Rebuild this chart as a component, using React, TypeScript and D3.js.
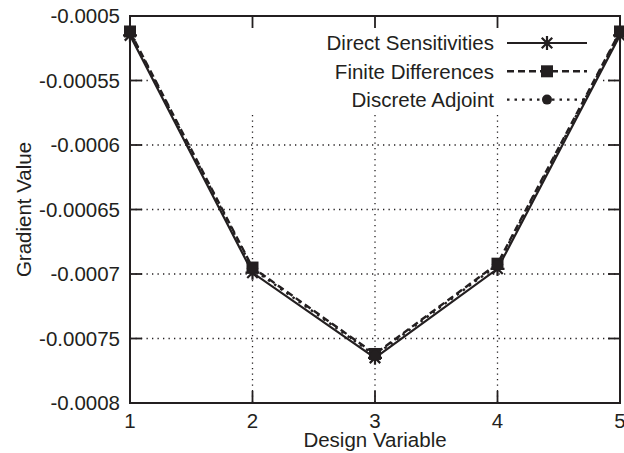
import React from "react";
import * as d3 from "d3";

const designVars = [1, 2, 3, 4, 5];
const directSens = [-0.000515, -0.000699, -0.000765, -0.000696, -0.000515];
const finiteDiff = [-0.000512, -0.000695, -0.000762, -0.000692, -0.000512];
const discreteAdj = [-0.000513, -0.000696, -0.000763, -0.000693, -0.000513];
const yTicks = [-0.0008, -0.00075, -0.0007, -0.00065, -0.0006, -0.00055, -0.0005];
const yTickLabels = ["-0.0008", "-0.00075", "-0.0007", "-0.00065", "-0.0006", "-0.00055", "-0.0005"];
const xTicks = [1, 2, 3, 4, 5];
const seriesNames = ["Direct Sensitivities", "Finite Differences", "Discrete Adjoint"];

const W = 624;
const H = 453;
const L = 130, R = 620, T = 16, B = 403;
const FONT = "'Liberation Sans', Arial, Helvetica, sans-serif";
const FS = 20.5;

function Asterisk({ x, y, r }: { x: number; y: number; r: number }) {
  const d = r * 0.75;
  return (
    <path
      d={`M${x - r},${y}H${x + r}M${x},${y - r}V${y + r}M${x - d},${y - d}L${x + d},${y + d}M${x - d},${y + d}L${x + d},${y - d}`}
      stroke="#231f20"
      strokeWidth={2.2}
      fill="none"
    />
  );
}

function Square({ x, y, s }: { x: number; y: number; s: number }) {
  return <rect x={x - s / 2} y={y - s / 2} width={s} height={s} fill="#231f20" />;
}

function Dot({ x, y, r }: { x: number; y: number; r: number }) {
  return <circle cx={x} cy={y} r={r} fill="#231f20" />;
}

export default function App() {
  const x = d3.scaleLinear().domain([1, 5]).range([L, R]);
  const y = d3.scaleLinear().domain([-0.0008, -0.0005]).range([B, T]);
  const line = d3
    .line<number>()
    .x((_, i) => x(designVars[i]))
    .y((d) => y(d));

  const ink = "#231f20";
  const tickLen = 12;
  const legendRows = [43, 71.3, 99.6];
  const legTextX = 494;
  const legX0 = 507, legX1 = 587, legM = 547;

  return (
    <svg
      width={W}
      height={H}
      style={{ position: "absolute", left: 0, top: 0, background: "#fff" }}
      fontFamily={FONT}
    >
      <rect x={0} y={0} width={W} height={H} fill="#fff" />
      {/* grid */}
      <g stroke={ink} strokeWidth={1.3} strokeDasharray="1.3,4.2">
        {yTicks.slice(1, -1).map((t) => (
          <line key={"gy" + t} x1={L} x2={R} y1={y(t)} y2={y(t)} />
        ))}
        {xTicks.slice(1, -1).map((t) => (
          <line key={"gx" + t} x1={x(t)} x2={x(t)} y1={T} y2={B} />
        ))}
      </g>
      {/* key mask */}
      <rect x={149} y={T + 1} width={454} height={96} fill="#fff" />
      {/* ticks */}
      <g stroke={ink} strokeWidth={1.8}>
        {yTicks.map((t) => (
          <g key={"ty" + t}>
            <line x1={L} x2={L + tickLen} y1={y(t)} y2={y(t)} />
            <line x1={R - tickLen} x2={R} y1={y(t)} y2={y(t)} />
          </g>
        ))}
        {xTicks.map((t) => (
          <g key={"tx" + t}>
            <line x1={x(t)} x2={x(t)} y1={B} y2={B - tickLen} />
            <line x1={x(t)} x2={x(t)} y1={T} y2={T + tickLen} />
          </g>
        ))}
      </g>
      {/* frame */}
      <rect x={L} y={T} width={R - L} height={B - T} fill="none" stroke={ink} strokeWidth={2} />
      {/* tick labels */}
      <g fontSize={FS} fill={ink}>
        {yTicks.map((t, i) => (
          <text key={"ly" + t} x={120} y={y(t)} dy="0.36em" textAnchor="end">
            {yTickLabels[i]}
          </text>
        ))}
        {xTicks.map((t) => (
          <text key={"lx" + t} x={x(t)} y={428} textAnchor="middle">
            {String(t)}
          </text>
        ))}
        <text x={(L + R) / 2} y={447} textAnchor="middle">
          Design Variable
        </text>
        <text transform={`translate(31,${(T + B) / 2}) rotate(-90)`} textAnchor="middle">
          Gradient Value
        </text>
      </g>
      {/* data */}
      <path d={line(directSens) || ""} fill="none" stroke={ink} strokeWidth={2.2} />
      {directSens.map((v, i) => (
        <Asterisk key={"a" + i} x={x(designVars[i])} y={y(v)} r={7} />
      ))}
      <path d={line(finiteDiff) || ""} fill="none" stroke={ink} strokeWidth={2.4} strokeDasharray="7,4" />
      {finiteDiff.map((v, i) => (
        <Square key={"s" + i} x={x(designVars[i])} y={y(v)} s={12} />
      ))}
      <path d={line(discreteAdj) || ""} fill="none" stroke={ink} strokeWidth={2.4} strokeDasharray="2.5,5" />
      {discreteAdj.map((v, i) => (
        <Dot key={"c" + i} x={x(designVars[i])} y={y(v)} r={5} />
      ))}
      {/* legend */}
      <g fontSize={FS} fill={ink}>
        {seriesNames.map((n, i) => (
          <text key={n} x={legTextX} y={legendRows[i]} dy="0.36em" textAnchor="end">
            {n}
          </text>
        ))}
      </g>
      <line x1={legX0} x2={legX1} y1={legendRows[0]} y2={legendRows[0]} stroke={ink} strokeWidth={2.2} />
      <Asterisk x={legM} y={legendRows[0]} r={7} />
      <line x1={legX0} x2={legX1} y1={legendRows[1]} y2={legendRows[1]} stroke={ink} strokeWidth={2.4} strokeDasharray="7,4" />
      <Square x={legM} y={legendRows[1]} s={12} />
      <line x1={legX0} x2={legX1} y1={legendRows[2]} y2={legendRows[2]} stroke={ink} strokeWidth={2.4} strokeDasharray="2.5,5" />
      <Dot x={legM} y={legendRows[2]} r={5} />
    </svg>
  );
}
